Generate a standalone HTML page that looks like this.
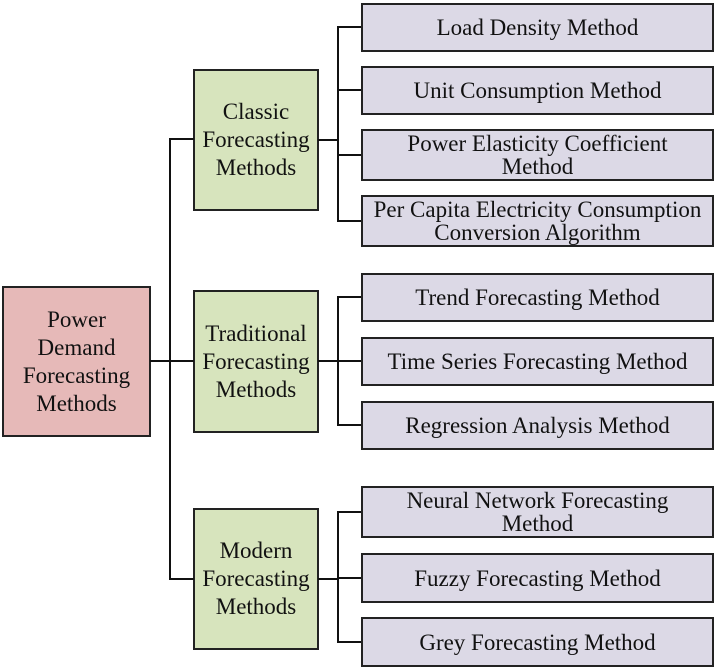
<!DOCTYPE html>
<html><head><style>
body{margin:0;width:714px;height:669px;background:#fff;position:relative;overflow:hidden;font-family:"Liberation Serif",serif;color:#111}
.b{position:absolute;box-sizing:border-box;border:2px solid #222;display:flex;align-items:center;justify-content:center;text-align:center;font-size:23px;line-height:28px}
.l{background:#dcd9e6;line-height:23px}
.g{background:#d7e4bd}
.r{background:#e6b9b8}
.h{position:absolute;height:2px;background:#111}
.v{position:absolute;width:2px;background:#111}
</style></head><body>
<div class="b r" style="left:2px;top:286px;width:149px;height:151px">Power<br>Demand<br>Forecasting<br>Methods</div>
<div class="b g" style="left:193px;top:69px;width:126px;height:142px">Classic<br>Forecasting<br>Methods</div>
<div class="b g" style="left:193px;top:290px;width:126px;height:143px">Traditional<br>Forecasting<br>Methods</div>
<div class="b g" style="left:193px;top:508px;width:126px;height:142px">Modern<br>Forecasting<br>Methods</div>

<div class="h" style="left:150px;top:360px;width:44px"></div>
<div class="v" style="left:169px;top:138px;height:442px"></div>
<div class="h" style="left:169px;top:138px;width:25px"></div>
<div class="h" style="left:169px;top:578px;width:25px"></div>

<div class="h" style="left:318px;top:139px;width:20px"></div>
<div class="v" style="left:337px;top:26px;height:196px"></div>
<div class="h" style="left:337px;top:26px;width:25px"></div>
<div class="h" style="left:337px;top:89px;width:25px"></div>
<div class="h" style="left:337px;top:154px;width:25px"></div>
<div class="h" style="left:337px;top:220px;width:25px"></div>

<div class="h" style="left:318px;top:360px;width:20px"></div>
<div class="v" style="left:337px;top:296px;height:130px"></div>
<div class="h" style="left:337px;top:296px;width:25px"></div>
<div class="h" style="left:337px;top:360px;width:25px"></div>
<div class="h" style="left:337px;top:424px;width:25px"></div>

<div class="h" style="left:318px;top:578px;width:20px"></div>
<div class="v" style="left:337px;top:511px;height:132px"></div>
<div class="h" style="left:337px;top:511px;width:25px"></div>
<div class="h" style="left:337px;top:577px;width:25px"></div>
<div class="h" style="left:337px;top:641px;width:25px"></div>

<div class="b l" style="left:361px;top:3px;width:353px;height:49px">Load Density Method</div>
<div class="b l" style="left:361px;top:66px;width:353px;height:49px">Unit Consumption Method</div>
<div class="b l" style="left:361px;top:129px;width:353px;height:52px">Power Elasticity Coefficient<br>Method</div>
<div class="b l" style="left:361px;top:195px;width:353px;height:52px">Per Capita Electricity Consumption<br>Conversion Algorithm</div>
<div class="b l" style="left:361px;top:273px;width:353px;height:49px">Trend Forecasting Method</div>
<div class="b l" style="left:361px;top:337px;width:353px;height:49px">Time Series Forecasting Method</div>
<div class="b l" style="left:361px;top:401px;width:353px;height:49px">Regression Analysis Method</div>
<div class="b l" style="left:361px;top:486px;width:353px;height:52px">Neural Network Forecasting<br>Method</div>
<div class="b l" style="left:361px;top:553px;width:353px;height:50px">Fuzzy Forecasting Method</div>
<div class="b l" style="left:361px;top:617px;width:353px;height:50px">Grey Forecasting Method</div>
</body></html>
